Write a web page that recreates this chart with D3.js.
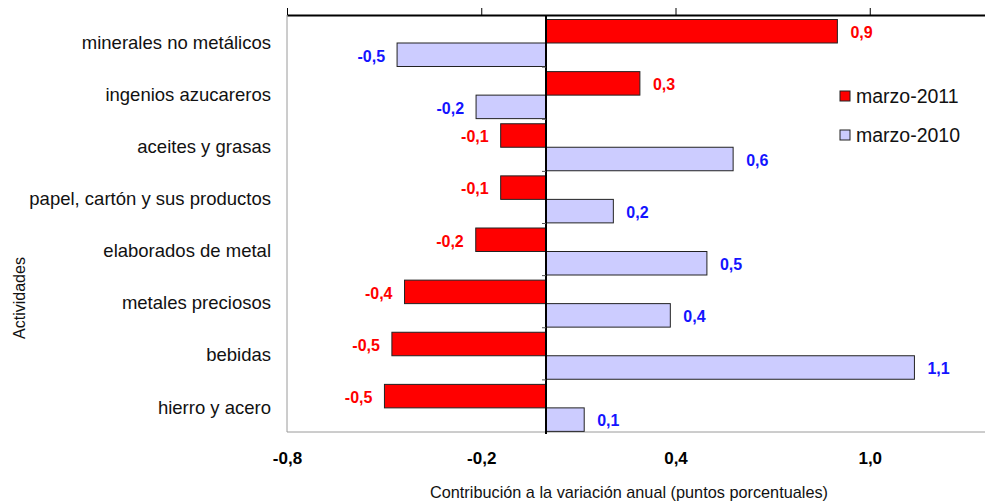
<!DOCTYPE html>
<html><head><meta charset="utf-8">
<script src="https://cdn.jsdelivr.net/npm/d3@7"></script>
<style>
body{margin:0;background:#fff;}
svg{display:block;font-family:"Liberation Sans",Arial,sans-serif;}
</style></head>
<body>
<svg id="c" width="985" height="502"></svg>
<script>
const categories = ["minerales no metálicos","ingenios azucareros","aceites y grasas","papel, cartón y sus productos","elaborados de metal","metales preciosos","bebidas","hierro y acero"];
const serieNames = ["marzo-2011","marzo-2010"];
const values2011 = [0.9, 0.29, -0.14, -0.14, -0.217, -0.437, -0.476, -0.499];
const values2010 = [-0.46, -0.216, 0.578, 0.208, 0.497, 0.384, 1.138, 0.118];
const tickValues = [-0.8, -0.2, 0.4, 1.0];
const colors = ["#FF0000", "#CCCCFF"];
const labelColors = ["#FF0000", "#1414FF"];

(function(){
const svg = d3.select("#c");
const plotTop = 15, plotBottom = 432, plotLeft = 287;
const x = d3.scaleLinear().domain([-0.8, 1.6]).range([plotLeft, 1064]);
const y = d3.scaleBand().domain(categories).range([plotTop, plotBottom]).paddingInner(0).paddingOuter(0);
const locale = d3.formatLocale({decimal: ",", thousands: ".", grouping: [3], currency: ["", ""], minus: "-"});
const fmt = locale.format(".1f");

// frame lines
svg.append("line").attr("x1", plotLeft).attr("x2", plotLeft).attr("y1", plotTop).attr("y2", plotBottom).attr("stroke", "#9a9a9a").attr("stroke-width", 1);
svg.append("line").attr("x1", plotLeft).attr("x2", 985).attr("y1", plotBottom).attr("y2", plotBottom).attr("stroke", "#9a9a9a").attr("stroke-width", 1);

// top axis with ticks
const topAxis = svg.append("g").attr("transform", `translate(0,${plotTop})`)
  .call(d3.axisTop(x).tickValues(tickValues).tickSize(7).tickSizeOuter(0).tickFormat(""));
topAxis.select(".domain").attr("stroke", "#000").attr("stroke-width", 2);
topAxis.selectAll(".tick line").attr("stroke", "#000").attr("stroke-width", 1);

// bottom tick labels
const botAxis = svg.append("g").attr("transform", `translate(0,${plotBottom})`)
  .call(d3.axisBottom(x).tickValues(tickValues).tickSize(0).tickPadding(20).tickFormat(fmt));
botAxis.select(".domain").remove();
botAxis.selectAll("text").attr("font-size", 17).attr("font-weight", "bold").attr("fill", "#000")
  .attr("font-family", "'Liberation Sans',Arial,sans-serif");

// bars
const bw = y.bandwidth();
const barH = 23.5;
const off = 4.5;
const series = [values2011, values2010];
series.forEach((vals, s) => {
  const g = svg.append("g");
  g.selectAll("rect").data(vals).join("rect")
    .attr("x", d => x(Math.min(0, d)))
    .attr("width", d => Math.abs(x(d) - x(0)))
    .attr("y", (d, i) => y(categories[i]) + off + s * barH)
    .attr("height", barH)
    .attr("fill", colors[s])
    .attr("stroke", "#222").attr("stroke-width", 1);
  g.selectAll("text").data(vals).join("text")
    .attr("x", d => d >= 0 ? x(d) + 13 : x(d) - 12)
    .attr("y", (d, i) => y(categories[i]) + off + s * barH + barH / 2 + 1)
    .attr("dy", "0.36em")
    .attr("text-anchor", d => d >= 0 ? "start" : "end")
    .attr("font-size", 16).attr("font-weight", "bold")
    .attr("fill", labelColors[s])
    .text(d => fmt(d));
});

// zero line with category ticks
svg.append("line").attr("x1", x(0)).attr("x2", x(0)).attr("y1", plotTop).attr("y2", plotBottom + 2).attr("stroke", "#000").attr("stroke-width", 2);
svg.append("g").selectAll("line").data(categories.slice(1)).join("line")
  .attr("x1", x(0) - 4).attr("x2", x(0))
  .attr("y1", d => y(d)).attr("y2", d => y(d))
  .attr("stroke", "#555").attr("stroke-width", 1);

// category labels
svg.append("g").selectAll("text").data(categories).join("text")
  .attr("x", 271)
  .attr("y", d => y(d) + bw / 2 + 1)
  .attr("dy", "0.36em")
  .attr("text-anchor", "end")
  .attr("font-size", 18.5)
  .attr("fill", "#111")
  .text(d => d);

// axis titles
svg.append("text").attr("transform", "translate(25,298) rotate(-90)")
  .attr("text-anchor", "middle").attr("font-size", 16).attr("fill", "#111").text("Actividades");
svg.append("text").attr("x", 430).attr("y", 498)
  .attr("font-size", 17).attr("fill", "#111")
  .attr("textLength", 398).attr("lengthAdjust", "spacingAndGlyphs")
  .text("Contribución a la variación anual (puntos porcentuales)");

// legend
const lg = svg.append("g").attr("transform", "translate(840,91)");
serieNames.forEach((n, i) => {
  lg.append("rect").attr("x", 0).attr("y", i * 39).attr("width", 10).attr("height", 10)
    .attr("fill", colors[i]).attr("stroke", "#222").attr("stroke-width", 1);
  lg.append("text").attr("x", 16).attr("y", i * 39 + 5).attr("dy", "0.36em")
    .attr("font-size", 19.5).attr("fill", "#111").text(n);
});
})();
</script>
</body></html>
